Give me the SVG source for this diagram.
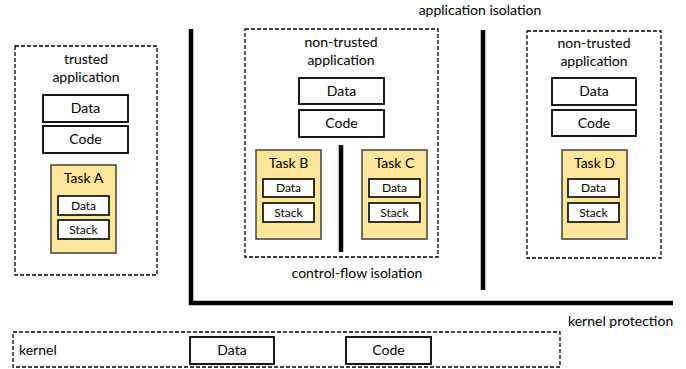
<svg xmlns="http://www.w3.org/2000/svg" width="686" height="369" viewBox="0 0 686 369">
<style>
text{font-family:Lato,"Liberation Sans",sans-serif;fill:#000;text-anchor:middle}
.t{font-size:14px}
.s{font-size:12px}
.l{text-anchor:start}
.dash{fill:#fff;stroke:#000;stroke-width:1.3;stroke-dasharray:4 2}
.box{fill:#fff;stroke:#000;stroke-width:1.8}
.task{fill:#FFE699;stroke:#404040;stroke-width:1.5}
.ibox{fill:#fff;stroke:#000;stroke-width:1.6}
.thick{fill:none;stroke:#000;stroke-width:4.5;stroke-linejoin:miter}
</style>
<rect width="686" height="369" fill="#fff"/>
<g id="trusted-app">
<rect class="dash" x="15" y="46" width="142" height="229"/>
<text class="t" x="86" y="64">trusted</text>
<text class="t" x="86" y="82">application</text>
<rect class="box" x="43" y="95" width="85" height="27"/><text class="t" x="85.5" y="113">Data</text>
<rect class="box" x="43" y="126" width="85" height="27"/><text class="t" x="85.5" y="144">Code</text>
</g>
<g id="task-a">
<rect class="task" x="51" y="165" width="65" height="88"/>
<text class="t" x="83.5" y="183">Task A</text>
<rect class="ibox" x="58" y="196" width="51" height="19"/><text class="s" x="83.5" y="210">Data</text>
<rect class="ibox" x="58" y="220" width="51" height="19"/><text class="s" x="83.5" y="234">Stack</text>
</g>
<g id="nontrusted-app-1">
<rect class="dash" x="245" y="29" width="193" height="228"/>
<text class="t" x="341" y="47">non-trusted</text>
<text class="t" x="341" y="65">application</text>
<rect class="box" x="299" y="78" width="85" height="26"/><text class="t" x="341.5" y="96">Data</text>
<rect class="box" x="299" y="110" width="85" height="27"/><text class="t" x="341.5" y="128">Code</text>
</g>
<g id="task-b">
<rect class="task" x="256" y="150" width="65" height="89"/>
<text class="t" x="288.5" y="168">Task B</text>
<rect class="ibox" x="263" y="179" width="51" height="18"/><text class="s" x="288.5" y="192">Data</text>
<rect class="ibox" x="263" y="203" width="51" height="19"/><text class="s" x="288.5" y="217">Stack</text>
</g>
<g id="task-c">
<rect class="task" x="362" y="150" width="65" height="89"/>
<text class="t" x="394.5" y="168">Task C</text>
<rect class="ibox" x="369" y="179" width="51" height="18"/><text class="s" x="394.5" y="192">Data</text>
<rect class="ibox" x="369" y="203" width="51" height="19"/><text class="s" x="394.5" y="217">Stack</text>
</g>
<g id="nontrusted-app-2">
<rect class="dash" x="527" y="31" width="134" height="227"/>
<text class="t" x="594" y="48">non-trusted</text>
<text class="t" x="594" y="66">application</text>
<rect class="box" x="552" y="78" width="84" height="27"/><text class="t" x="594" y="96">Data</text>
<rect class="box" x="552" y="110" width="84" height="26"/><text class="t" x="594" y="128">Code</text>
</g>
<g id="task-d">
<rect class="task" x="562" y="150" width="65" height="89"/>
<text class="t" x="594.5" y="168">Task D</text>
<rect class="ibox" x="568" y="179" width="51" height="18"/><text class="s" x="593.5" y="192">Data</text>
<rect class="ibox" x="568" y="203" width="51" height="19"/><text class="s" x="593.5" y="217">Stack</text>
</g>
<g id="kernel">
<rect class="dash" x="13" y="332" width="547" height="35"/>
<text class="t l" x="19" y="355">kernel</text>
<rect class="box" x="190" y="337" width="84" height="27"/><text class="t" x="232" y="355">Data</text>
<rect class="box" x="346" y="337" width="85" height="27"/><text class="t" x="388.5" y="355">Code</text>
</g>
<g id="connectors">
<polyline class="thick" points="191,29 191,303 673,303"/>
<line class="thick" x1="483" y1="30" x2="483" y2="290"/>
<line class="thick" x1="341" y1="145" x2="341" y2="252" stroke-width="4"/>
</g>
<g id="labels">
<text class="t" x="480" y="15">application isolation</text>
<text class="t" x="357" y="278">control-flow isolation</text>
<text class="t l" x="568" y="326">kernel protection</text>
</g>
</svg>
